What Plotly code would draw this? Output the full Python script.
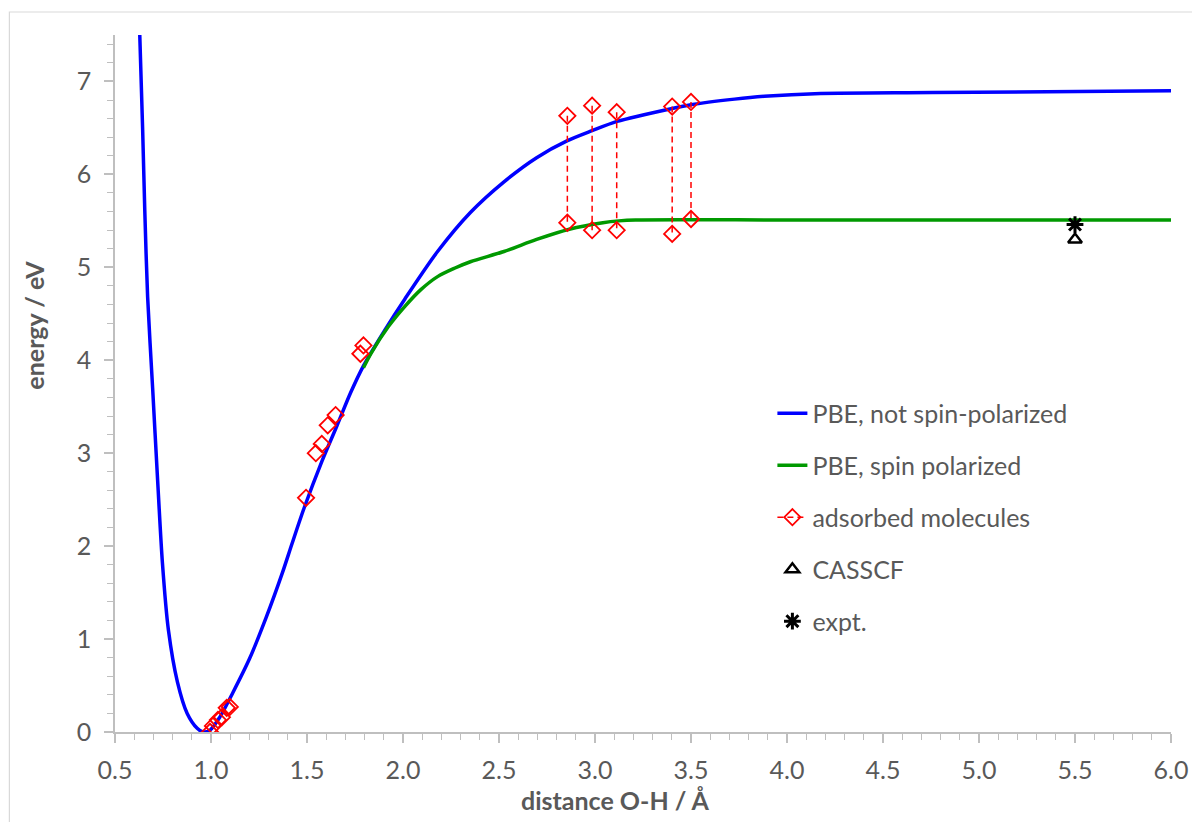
import plotly.graph_objects as go

# PBE, not spin-polarized
blue_x = [0.629, 0.644, 0.655, 0.670, 0.696, 0.722, 0.747, 0.778, 0.825, 0.876, 0.928, 0.959,
          0.995, 1.046, 1.113, 1.201, 1.287, 1.373, 1.421, 1.485, 1.577, 1.655, 1.727, 1.794,
          1.907, 2.010, 2.180, 2.351, 2.526, 2.696, 2.854, 2.985, 3.115, 3.402, 3.499, 3.727,
          3.881, 4.175, 4.758, 6.0]
blue_y = [7.50, 6.48, 5.62, 4.68, 3.70, 2.71, 1.82, 1.10, 0.54, 0.20, 0.04, 0.00,
          0.02, 0.16, 0.42, 0.79, 1.23, 1.72, 2.02, 2.41, 2.91, 3.29, 3.65, 3.94,
          4.33, 4.66, 5.17, 5.59, 5.92, 6.18, 6.36, 6.47, 6.57, 6.71, 6.75, 6.81,
          6.84, 6.87, 6.88, 6.90]

# PBE, spin polarized
green_x = [1.794, 1.835, 1.923, 2.010, 2.093, 2.180, 2.268, 2.351, 2.526, 2.696, 2.866,
           3.041, 3.124, 3.211, 4.04, 6.0]
green_y = [3.92, 4.08, 4.36, 4.58, 4.76, 4.90, 4.99, 5.06, 5.17, 5.30, 5.41,
           5.48, 5.50, 5.51, 5.51, 5.51]

# adsorbed molecules: single points
ads_x = [0.995, 1.010, 1.036, 1.057, 1.082, 1.098,
         1.495, 1.546, 1.577, 1.608, 1.649, 1.778, 1.794]
ads_y = [0.00, 0.065, 0.13, 0.16, 0.26, 0.27,
         2.52, 3.00, 3.10, 3.30, 3.41, 4.07, 4.16]

# adsorbed molecules: paired points (connected by dashed lines)
pair_x = [2.856, 2.985, 3.113, 3.402, 3.500]
pair_top = [6.63, 6.74, 6.67, 6.73, 6.78]
pair_bottom = [5.48, 5.40, 5.40, 5.36, 5.52]

casscf_x = [5.5]
casscf_y = [5.30]
expt_x = [5.5]
expt_y = [5.46]

FONT = "Lato"
GREY = "#595959"
AXC = "#bfbfbf"
FS = 25

# build red trace with gaps (None) so only pairs are joined
rx, ry = [], []
for x, y in zip(ads_x, ads_y):
    rx += [x, None]
    ry += [y, None]
for x, t, b in zip(pair_x, pair_top, pair_bottom):
    rx += [x, x, None]
    ry += [t, b, None]

fig = go.Figure()
fig.add_trace(go.Scatter(x=blue_x, y=blue_y, mode="lines", name="PBE, not spin-polarized",
                         line=dict(color="#0000ff", width=3.5, shape="spline", smoothing=0.8),
                         legendgroup="a"))
fig.add_trace(go.Scatter(x=green_x, y=green_y, mode="lines", name="PBE, spin polarized",
                         line=dict(color="#009900", width=3.5, shape="spline", smoothing=0.8),
                         legendgroup="b"))
fig.add_trace(go.Scatter(x=rx, y=ry, mode="lines+markers", name="adsorbed molecules",
                         line=dict(color="#ff0000", width=1.5, dash="6px,4px"),
                         marker=dict(symbol="diamond-open", size=12.5, color="#ff0000",
                                     line=dict(color="#ff0000", width=1.8)),
                         connectgaps=False, legendgroup="c"))
fig.add_trace(go.Scatter(x=casscf_x, y=casscf_y, mode="markers", name="CASSCF",
                         marker=dict(symbol="triangle-up-open", size=12, color="black",
                                     line=dict(color="black", width=2.5)),
                         legendgroup="d"))
fig.add_trace(go.Scatter(x=expt_x, y=expt_y, mode="markers", name="expt.",
                         marker=dict(symbol="asterisk-open", size=14, color="black",
                                     line=dict(color="black", width=3)),
                         legendgroup="e"))

L, R = 107, 20
PW = 1192 - L - R

fig.update_layout(
    width=1192, height=814,
    margin=dict(l=L, r=R, t=27, b=90),
    paper_bgcolor="white", plot_bgcolor="white",
    font=dict(family=FONT, size=FS, color=GREY),
    showlegend=True,
    legend=dict(x=(770 - L) / PW, y=0.49, xanchor="left", yanchor="top",
                font=dict(family=FONT, size=FS, color=GREY),
                tracegroupgap=16.5, bgcolor="rgba(0,0,0,0)"),
    xaxis=dict(range=[0.5, 6.0], dtick=0.5, tick0=0.5, tickformat=".1f",
               showgrid=False, zeroline=False,
               showline=True, linecolor=AXC, linewidth=1.5,
               ticks="outside", ticklen=9, tickcolor=AXC, tickwidth=1.5,
               ticklabelstandoff=6,
               minor=dict(dtick=0.1, ticks="outside", ticklen=6, tickcolor=AXC, tickwidth=1.2),
               tickfont=dict(family=FONT, size=FS, color=GREY)),
    yaxis=dict(range=[0, 7.5], dtick=1, tick0=0,
               showgrid=False, zeroline=False,
               showline=True, linecolor=AXC, linewidth=1.5,
               ticks="outside", ticklen=9, tickcolor=AXC, tickwidth=1.5,
               ticklabelstandoff=8,
               minor=dict(dtick=0.2, ticks="outside", ticklen=6, tickcolor=AXC, tickwidth=1.2),
               tickfont=dict(family=FONT, size=FS, color=GREY)),
    annotations=[
        dict(text="<b>distance O-H / Å</b>", xref="paper", yref="paper",
             x=(612 - L) / PW, y=-0.0976, xanchor="center", yanchor="middle",
             showarrow=False, font=dict(family=FONT, size=FS, color=GREY)),
        dict(text="<b>energy / eV</b>", xref="paper", yref="paper",
             x=(25 - L) / PW, y=0.584, xanchor="center", yanchor="middle",
             textangle=-90, showarrow=False, font=dict(family=FONT, size=FS, color=GREY)),
    ],
    shapes=[dict(type="rect", xref="paper", yref="paper",
                 x0=-(L - 0.5) / PW, x1=1.2, y0=-0.3, y1=(724 - 4) / 697,
                 line=dict(color="#d9d9d9", width=1.2), fillcolor="rgba(0,0,0,0)", layer="below")],
)

fig.write_html("out.html")
